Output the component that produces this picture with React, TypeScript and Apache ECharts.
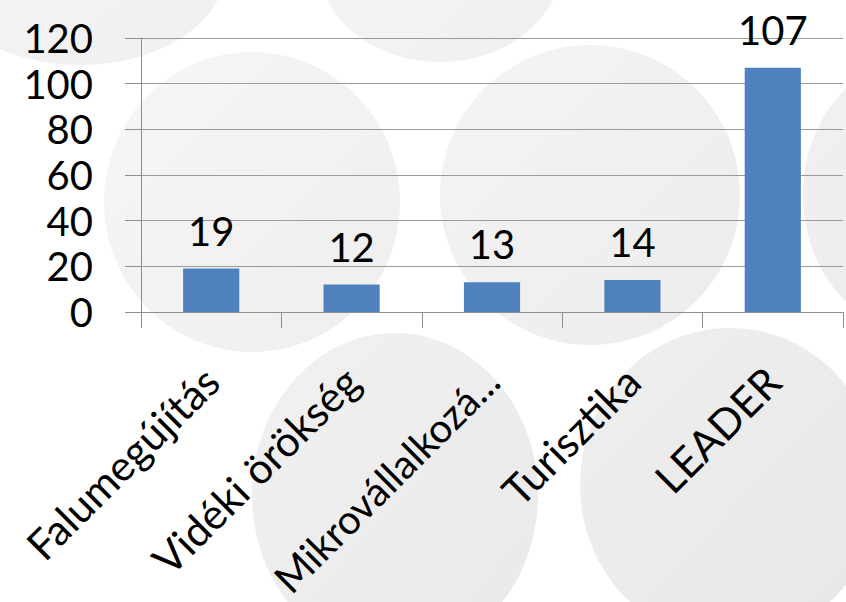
import React, { useEffect, useRef } from "react";
import * as echarts from "echarts";

const categories = ["Falumegújítás", "Vidéki örökség", "Mikrovállalkozá...", "Turisztika", "LEADER"];
const values = [19, 12, 13, 14, 107];
const yTicks = [0, 20, 40, 60, 80, 100, 120];

const FONT = "Lato";

function blob(cx: number, cy: number, rx: number, ry: number, c1: string, c2: string) {
  return {
    type: "ellipse",
    silent: true,
    z: -10,
    shape: { cx, cy, rx, ry },
    style: {
      fill: {
        type: "linear",
        x: 0,
        y: 0,
        x2: 1,
        y2: 1,
        colorStops: [
          { offset: 0, color: c1 },
          { offset: 1, color: c2 },
        ],
      },
    },
  };
}

export default function App() {
  const ref = useRef<HTMLDivElement>(null);
  useEffect(() => {
    if (!ref.current) return;
    const chart = echarts.init(ref.current, undefined, { renderer: "svg" });
    const catData = categories.map((c) =>
      c.length > 16 ? { value: c, textStyle: { fontSize: 40 } } : c
    );
    chart.setOption({
      animation: false,
      backgroundColor: "#ffffff",
      graphic: [
        blob(80, -30, 145, 95, "#f6f6f7", "#efeff0"),
        blob(440, -38, 122, 100, "#f6f6f7", "#efeff0"),
        blob(252, 202, 148, 150, "#f6f6f7", "#eeeeef"),
        blob(590, 195, 150, 150, "#f4f4f5", "#ececed"),
        blob(915, 195, 112, 135, "#f1f1f2", "#e9e9ea"),
        blob(395, 495, 143, 162, "#f1f1f2", "#e9e9ea"),
        blob(730, 485, 150, 157, "#efeff0", "#e7e7e8"),
      ],
      grid: { left: 141, right: 3, top: 38, bottom: 290, containLabel: false, outerBoundsMode: "none" },
      xAxis: {
        type: "category",
        data: catData,
        boundaryGap: true,
        axisLine: { show: true, lineStyle: { color: "#8e8e8e", width: 1 } },
        axisTick: { show: true, length: 16, alignWithLabel: false, lineStyle: { color: "#8e8e8e" } },
        axisLabel: {
          rotate: 45,
          interval: 0,
          margin: 62,
          fontFamily: FONT,
          fontSize: 42,
          color: "#000000",
        },
        splitLine: { show: false },
      },
      yAxis: {
        type: "value",
        min: yTicks[0],
        max: yTicks[yTicks.length - 1],
        interval: 20,
        axisLine: { show: true, lineStyle: { color: "#8e8e8e", width: 1 } },
        axisTick: { show: true, length: 16, lineStyle: { color: "#8e8e8e" } },
        axisLabel: {
          margin: 48,
          fontFamily: FONT,
          fontSize: 40,
          color: "#000000",
        },
        splitLine: { show: true, lineStyle: { color: "#9a9a9a", width: 1 } },
      },
      series: [
        {
          type: "bar",
          data: values,
          barWidth: "40%",
          itemStyle: { color: "#4f81bd" },
          label: {
            show: true,
            position: "top",
            distance: 18,
            fontFamily: FONT,
            fontSize: 40,
            color: "#000000",
          },
        },
      ],
    });
    return () => chart.dispose();
  }, []);
  return <div ref={ref} style={{ width: 846, height: 602, position: "absolute", left: 0, top: 0 }} />;
}
